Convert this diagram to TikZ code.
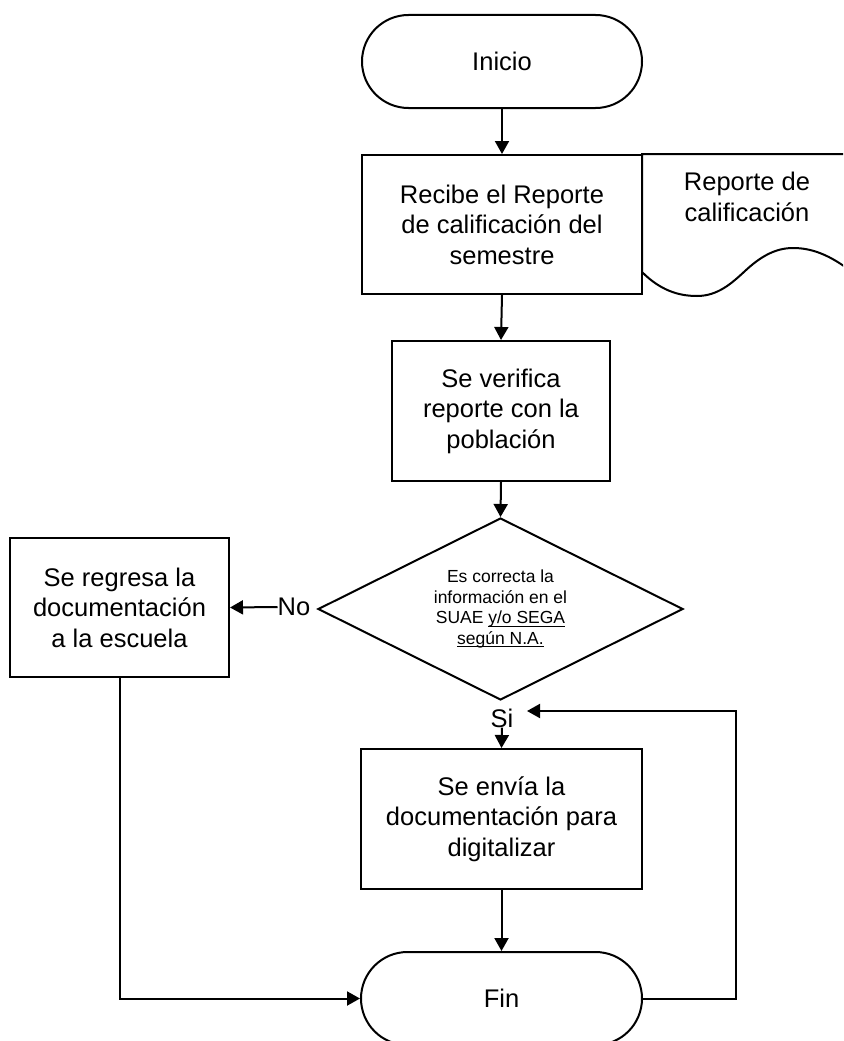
\documentclass[tikz,border=0pt]{standalone}
\usepackage{fontspec}
\setmainfont{Liberation Sans}
\usetikzlibrary{shapes.geometric,shapes.misc,arrows.meta}
\newcommand{\myul}[1]{\setbox0\hbox{#1}\rlap{\rule[-3pt]{\wd0}{0.9pt}}\box0}
\tikzset{
  lw/.style={line width=2pt},
  mainfont/.style={font=\fontsize{25.5}{30.5}\selectfont},
  procbox/.style={lw, draw, rectangle, align=center, inner sep=0pt, mainfont},
  termbox/.style={lw, draw, rounded rectangle, align=center, inner sep=0pt, mainfont},
  decision/.style={lw, draw, diamond, aspect=2, align=center, inner sep=0pt,
    font=\fontsize{17.5}{20.5}\selectfont},
  lbl/.style={inner sep=0pt, mainfont},
  arr/.style={lw, -{Triangle[length=13pt,width=14pt]}},
}
\begin{document}
\begin{tikzpicture}[x=1pt,y=-1pt]
\useasboundingbox (0,0) rectangle (843,1041);
\clip (0,0) rectangle (843,1041);
% document shape
\draw[lw] (900,154) -- (642,154) -- (642,272)
  .. controls (660,290) and (678,296) .. (697,296)
  .. controls (718,296) and (732,283) .. (745,271)
  .. controls (760,257) and (775,248) .. (793,248)
  .. controls (812,248) and (830,255) .. (852,272);
\node[lbl, align=center] (doc) at (747,197) {Reporte de\\calificación};
% nodes
\node[termbox, minimum width=280pt, minimum height=93pt] (inicio) at (502,61.5) {Inicio};
\node[procbox, minimum width=280pt, minimum height=139pt] (recibe) at (502,224.5) {Recibe el Reporte\\de calificación del\\semestre};
\node[procbox, minimum width=218pt, minimum height=140pt] (verifica) at (501,411) {Se verifica\\reporte con la\\población};
\node[decision, minimum width=365pt, minimum height=182pt] (dec) at (500.5,609) {Es correcta la\\información en el\\SUAE \myul{y/o SEGA}\\\myul{según N.A.}};
\node[procbox, minimum width=219pt, minimum height=139pt] (regresa) at (119.5,607.5) {Se regresa la\\documentación\\a la escuela};
\node[lbl] (no) at (294,607) {No};
\node[lbl] (si) at (502,718) {Si};
\node[procbox, minimum width=281pt, minimum height=140pt] (envia) at (501.5,819) {Se envía la\\documentación para\\digitalizar};
\node[termbox, minimum width=281pt, minimum height=93pt] (fin) at (501.5,998.5) {Fin};
\coordinate (siin) at (527,711);
\coordinate (loopc) at (736,998.5);
% connectors
\draw[arr] (inicio.south) -- (recibe.north);
\draw[arr] (recibe.south) -- (verifica.north);
\draw[arr] (verifica.south) -- (dec.north);
\draw[arr] (no.west) -- (regresa.east);
\draw[arr] (si.south) -- (envia.north);
\draw[arr] (envia.south) -- (fin.north);
\draw[arr] (regresa.south) |- (fin.west);
\draw[arr] (fin.east) -- (loopc) |- (siin);
\end{tikzpicture}
\end{document}
